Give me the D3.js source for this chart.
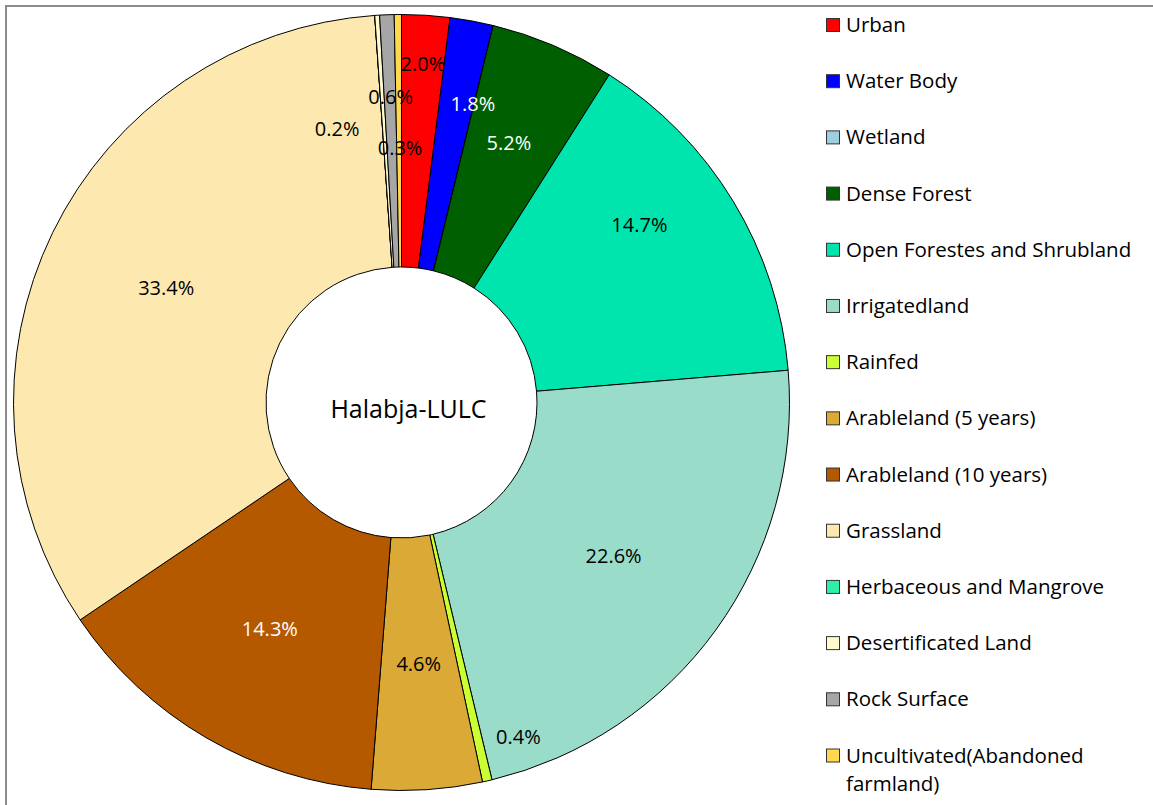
<!DOCTYPE html>
<html>
<head>
<meta charset="utf-8">
<script src="https://cdn.jsdelivr.net/npm/d3@7"></script>
<style>
  body { margin: 0; background: #fff; }
  svg { display: block; }
  text { font-family: "Open Sans", "Noto Sans", sans-serif; }
</style>
</head>
<body>
<svg id="svg" width="1153" height="805"></svg>
<script>
// land use / land cover classes, clockwise from 12 o'clock
const categories = [
  "Urban", "Water Body", "Wetland", "Dense Forest", "Open Forestes and Shrubland",
  "Irrigatedland", "Rainfed", "Arableland (5 years)", "Arableland (10 years)",
  "Grassland", "Herbaceous and Mangrove", "Desertificated Land", "Rock Surface",
  "Uncultivated(Abandoned farmland)"
];
const shares = [2.0, 1.8, 0.0, 5.2, 14.7, 22.6, 0.4, 4.6, 14.3, 33.4, 0.0, 0.2, 0.6, 0.3];
const colors = [
  "#ff0000", "#0000ff", "#9dcfe0", "#005f00", "#00e5ae",
  "#99dcca", "#ccff33", "#dba935", "#b45900",
  "#fde9b0", "#2ff0a8", "#fffacc", "#a6a6a6", "#ffd84f"
];
const centerTitle = "Halabja-LULC";

const svg = d3.select("#svg");
const cx = 401.5, cy = 402.5;
const rOuter = 388, rInner = 135.5;

// outer frame (cut off at right and bottom like the source)
svg.append("rect")
  .attr("x", 6).attr("y", 6)
  .attr("width", 1160).attr("height", 820)
  .attr("fill", "none")
  .attr("stroke", "#8c8c8c")
  .attr("stroke-width", 2);

const color = d3.scaleOrdinal().domain(categories).range(colors);

const pie = d3.pie().sort(null).value(d => d.v);
const arcs = pie(categories.map((c, i) => ({ c: c, v: shares[i] })));
const arc = d3.arc().innerRadius(rInner).outerRadius(rOuter);

const g = svg.append("g").attr("transform", `translate(${cx},${cy})`);

g.selectAll("path.slice")
  .data(arcs)
  .enter().append("path")
  .attr("class", "slice")
  .attr("d", arc)
  .attr("fill", d => color(d.data.c))
  .attr("stroke", "#000")
  .attr("stroke-width", 1)
  .attr("stroke-linejoin", "round");

// Excel pushed the thin-slice labels away from the centroid
const nudge = {
  "Urban": [5, -78],
  "Water Body": [24, -42],
  "Dense Forest": [5, -19],
  "Open Forestes and Shrubland": [14, -42],
  "Rainfed": [59, 79],
  "Desertificated Land": [-48, -13],
  "Rock Surface": [-1, -44],
  "Uncultivated(Abandoned farmland)": [1, 7]
};
const whiteText = new Set(["Water Body", "Dense Forest", "Arableland (10 years)"]);

g.selectAll("text.lbl")
  .data(arcs.filter(d => d.data.v > 0))
  .enter().append("text")
  .attr("class", "lbl")
  .attr("x", d => arc.centroid(d)[0] + (nudge[d.data.c] || [0, 0])[0])
  .attr("y", d => arc.centroid(d)[1] + (nudge[d.data.c] || [0, 0])[1])
  .attr("text-anchor", "middle")
  .attr("dominant-baseline", "central")
  .attr("font-size", 20)
  .attr("fill", d => whiteText.has(d.data.c) ? "#fff" : "#000")
  .text(d => d3.format(".1f")(d.data.v) + "%");

g.append("text")
  .attr("x", 7).attr("y", 5)
  .attr("text-anchor", "middle")
  .attr("dominant-baseline", "central")
  .attr("font-size", 25)
  .attr("fill", "#000")
  .text(centerTitle);

// legend
const legendY = d3.scalePoint().domain(categories).range([25, 755.5]);
const legend = svg.append("g");
const item = legend.selectAll("g.item")
  .data(categories)
  .enter().append("g")
  .attr("class", "item")
  .attr("transform", d => `translate(826,${legendY(d)})`);

item.append("rect")
  .attr("x", 0.5).attr("y", -6.5)
  .attr("width", 13).attr("height", 13)
  .attr("fill", d => color(d))
  .attr("stroke", "#333")
  .attr("stroke-width", 1);

item.append("text")
  .attr("x", 20).attr("y", -1)
  .attr("dominant-baseline", "central")
  .attr("font-size", 20.5)
  .attr("fill", "#000")
  .each(function (d) {
    const t = d3.select(this);
    const m = d.match(/^(Uncultivated\(Abandoned) (farmland\))$/);
    if (m) {
      t.append("tspan").attr("x", 20).attr("dy", 0).text(m[1]);
      t.append("tspan").attr("x", 20).attr("dy", 28).text(m[2]);
    } else {
      t.text(d);
    }
  });
</script>
</body>
</html>
